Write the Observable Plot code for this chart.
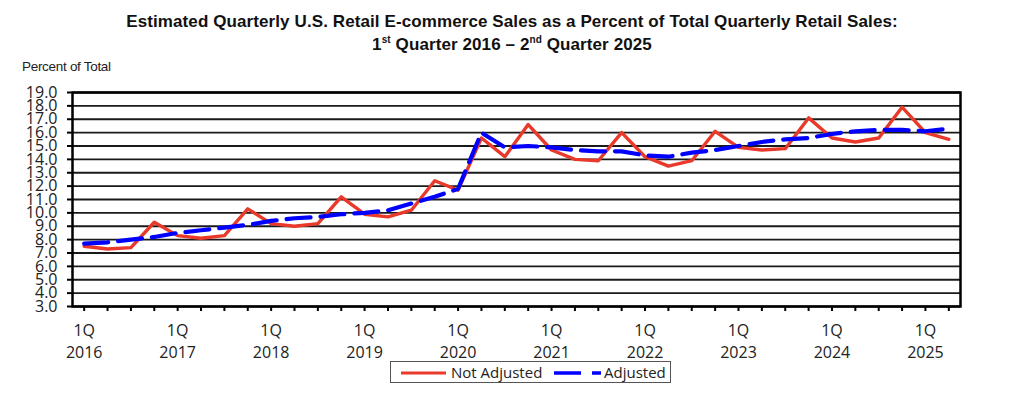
<!DOCTYPE html>
<html>
<head>
<meta charset="utf-8">
<script src="https://cdn.jsdelivr.net/npm/d3@7"></script>
<script src="https://cdn.jsdelivr.net/npm/@observablehq/plot@0.6"></script>
<style>
  html, body { margin: 0; padding: 0; background: #fff; }
  #wrap { position: relative; width: 1024px; height: 394px; overflow: hidden; background: #fff; }
  .title { position: absolute; left: 0; width: 1024px; text-align: center; font-family: "Liberation Sans", Arial, sans-serif; font-weight: bold; font-size: 17px; letter-spacing: 0.1px; color: #111; white-space: nowrap; z-index: 2; }
  .title sup { font-size: 10px; vertical-align: 7px; line-height: 0; }
  #ylab { position: absolute; left: 22px; top: 59px; font-family: "Liberation Sans", Arial, sans-serif; font-size: 13.5px; letter-spacing: -0.3px; color: #222; z-index: 2; }
  #chart { position: absolute; left: 0; top: 56px; z-index: 1; }
  #chart svg { background: transparent !important; }
  #chart svg text { font-family: "Open Sans", sans-serif; fill: #222; }
  #legend { position: absolute; left: 390px; top: 361px; width: 281px; height: 22px; border: 1px solid #555; box-sizing: border-box; font-family: "Open Sans", sans-serif; font-size: 15px; color: #222; background: #fff; z-index: 2; }
  #legend svg { position: absolute; left: 0; top: 0; }
  #legend span { position: absolute; top: 0px; line-height: 20px; white-space: nowrap; }
</style>
</head>
<body>
<div id="wrap">
  <div class="title" style="top:12px;">Estimated Quarterly U.S. Retail E-commerce Sales as a Percent of Total Quarterly Retail Sales:</div>
  <div class="title" style="top:35px;">1<sup>st</sup> Quarter 2016 – 2<sup>nd</sup> Quarter 2025</div>
  <div id="ylab">Percent of Total</div>
  <div id="chart"></div>
  <div id="legend">
    <svg width="281" height="22">
      <line x1="10" x2="55" y1="11" y2="11" stroke="#E8392A" stroke-width="3"></line>
      <line x1="163" x2="210" y1="11" y2="11" stroke="#0000FF" stroke-width="3.5" stroke-dasharray="27,11"></line>
    </svg>
    <span id="lg1" style="left:60px;">Not Adjusted</span>
    <span id="lg2" style="left:213px;">Adjusted</span>
  </div>
</div>
<script>
// Quarters 1Q 2016 .. 2Q 2025
const years = ["2016","2017","2018","2019","2020","2021","2022","2023","2024","2025"];
const quarterNames = ["1Q","2Q","3Q","4Q"];
const quarters = [];
for (const y of years) for (const q of quarterNames) quarters.push(q + " " + y);
quarters.length = 38;

// Percent of total retail sales, not seasonally adjusted
const notAdjusted = [7.5, 7.3, 7.4, 9.3, 8.3, 8.1, 8.3, 10.3, 9.2, 9.0, 9.2, 11.2,
  9.9, 9.7, 10.2, 12.4, 11.7, 15.6, 14.2, 16.6, 14.7, 14.0, 13.9, 16.0,
  14.2, 13.5, 13.9, 16.1, 14.9, 14.7, 14.8, 17.1, 15.6, 15.3, 15.6, 17.9,
  16.0, 15.5];

// Percent of total retail sales, seasonally adjusted
const adjusted = [7.7, 7.8, 8.0, 8.2, 8.5, 8.7, 8.9, 9.1, 9.4, 9.6, 9.7, 9.9,
  10.0, 10.2, 10.7, 11.2, 11.8, 16.0, 14.9, 15.0, 14.9, 14.7, 14.6, 14.6,
  14.3, 14.2, 14.5, 14.7, 15.0, 15.3, 15.5, 15.6, 15.9, 16.1, 16.2, 16.2,
  16.1, 16.3];

const yTicks = d3.range(3, 20);

const rows = quarters.map((q, i) => ({i, q, na: notAdjusted[i], ad: adjusted[i]}));
const firstQIdx = quarters.map((q, i) => i).filter(i => quarters[i].startsWith("1Q"));

const chart = Plot.plot({
  width: 1024,
  height: 305,
  marginLeft: 72,
  marginRight: 64,
  marginTop: 36,
  marginBottom: 55,
  x: {domain: [-0.5, quarters.length - 0.5]},
  y: {domain: [3, 19]},
  style: {fontFamily: "Open Sans, sans-serif", fontSize: "15px", color: "#222", background: "transparent", overflow: "visible"},
  marks: [
    Plot.ruleY(yTicks, {stroke: "#1a1a1a", strokeWidth: 1.8}),
    Plot.axisY({ticks: yTicks, tickSize: 5, tickPadding: 10, tickFormat: d => d.toFixed(1), label: null, stroke: "black", strokeWidth: 2, fontSize: 16}),
    Plot.axisX({ticks: d3.range(quarters.length), tickSize: 5, tickFormat: () => "", label: null, stroke: "black", strokeWidth: 2}),
    Plot.axisX({ticks: firstQIdx, tickSize: 0, tickPadding: 14, lineHeight: 1.38, label: null,
      tickFormat: i => quarters[i].replace(" ", "\n"), fontSize: 16}),
    Plot.frame({stroke: "black", strokeWidth: 2.5}),
    Plot.line(rows, {x: "i", y: "na", stroke: "#E8392A", strokeWidth: 3.4}),
    Plot.line(rows, {x: "i", y: "ad", stroke: "#0000FF", strokeWidth: 4.2, strokeDasharray: "24,10"})
  ]
});
document.getElementById("chart").appendChild(chart);
</script>
</body>
</html>
